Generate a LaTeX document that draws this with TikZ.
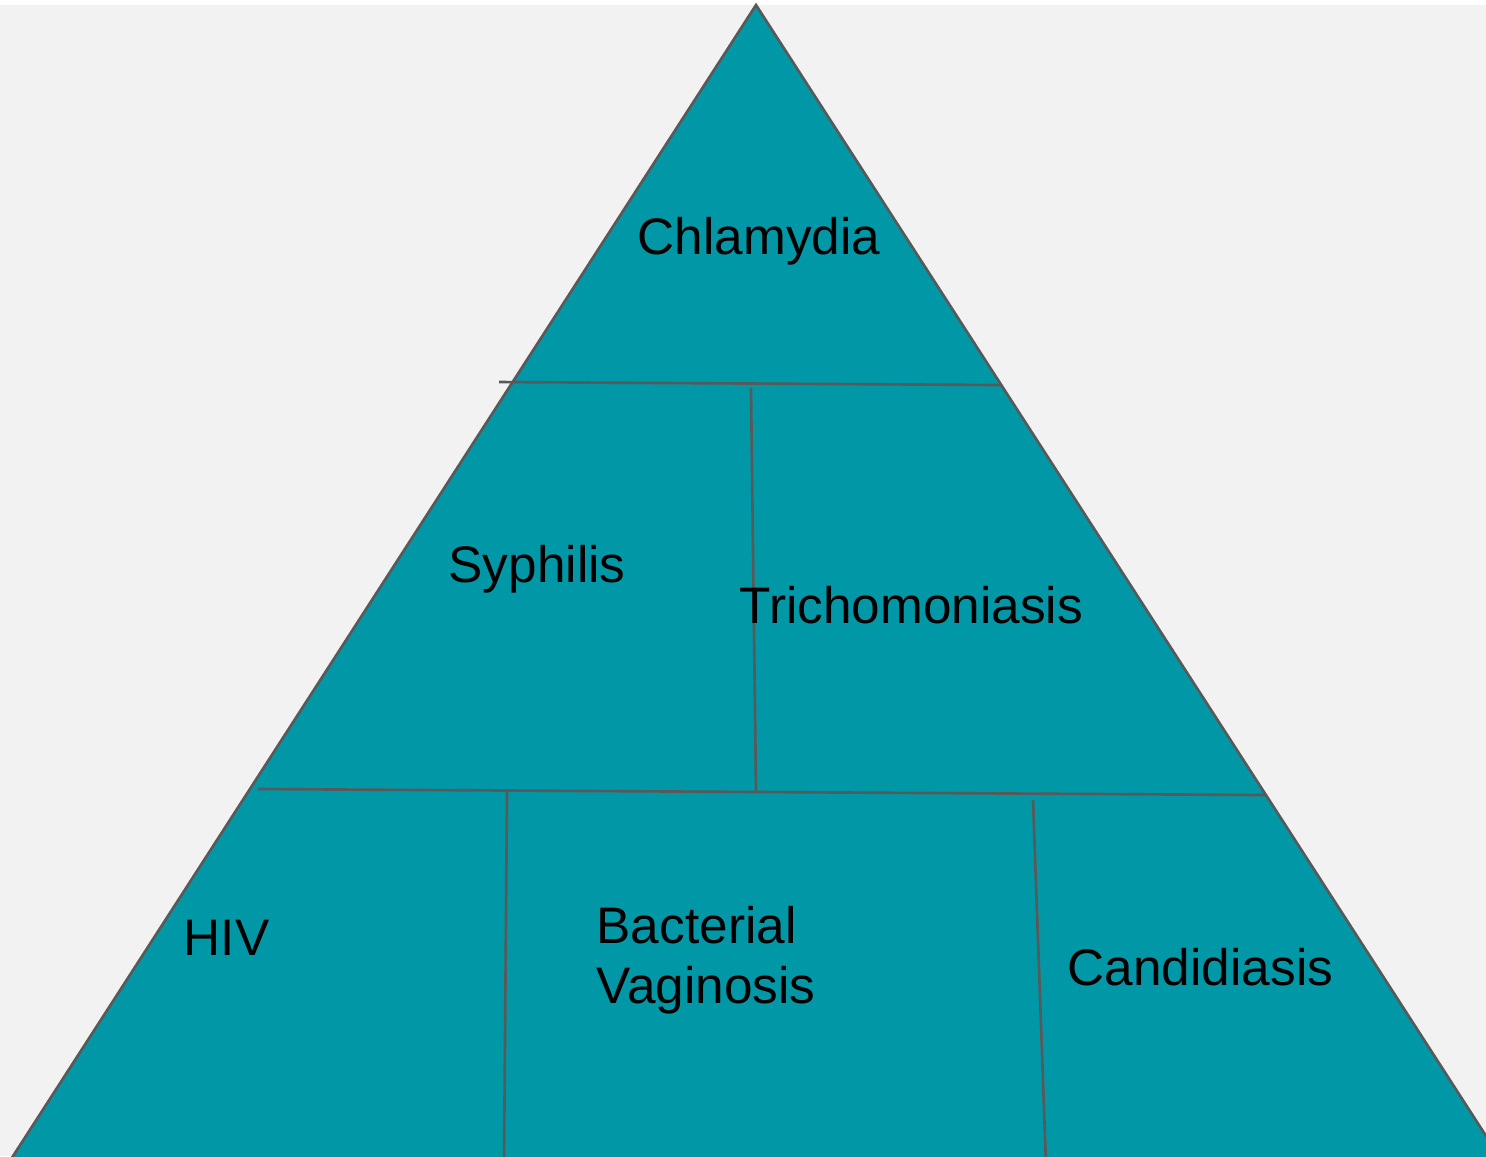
\documentclass[tikz,border=0pt]{standalone}
\usepackage{fontspec}
\setmainfont{Liberation Sans}
\definecolor{pyrteal}{HTML}{0097A7}
\definecolor{pyrback}{HTML}{F2F2F2}
\definecolor{pyrline}{HTML}{595959}
\begin{document}
\begin{tikzpicture}[x=0.01cm, y=-0.01cm,
		disease/.style={anchor=base west, inner sep=0, font=\fontsize{14.6}{17.5}\selectfont},
		divider/.style={draw=pyrline, line width=0.75pt}]
	\fill[white] (0, 0) rectangle (1486, 1156);
	\fill[pyrback] (0, 5) rectangle (1486, 1156);
	\clip (0, 0) rectangle (1486, 1156);
	\filldraw[fill=pyrteal, draw=pyrline, line width=0.75pt] (756, 5) -- (4, 1170) -- (1508, 1170) -- cycle;
	\coordinate (t1) at (499, 382);
	\coordinate (t2) at (1000, 385);
	\coordinate (m1) at (258, 789);
	\coordinate (m2) at (1265, 795);
	\draw[divider] (t1) -- (t2);
	\draw[divider] (751, 388) -- (756, 792);
	\draw[divider] (m1) -- (m2);
	\draw[divider] (507, 792) -- (504, 1165);
	\draw[divider] (1033, 800) -- (1046, 1165);
	\node[disease] (chlamydia) at (637, 254) {Chlamydia};
	\node[disease] (syphilis) at (448, 582) {Syphilis};
	\node[disease] (trich) at (739, 623) {Trichomoniasis};
	\node[disease] (hiv) at (183, 955) {HIV};
	\node[disease] (bacterial) at (596, 943) {Bacterial};
	\node[disease] (vaginosis) at (596, 1003) {Vaginosis};
	\node[disease] (candida) at (1067, 985) {Candidiasis};
\end{tikzpicture}
\end{document}
